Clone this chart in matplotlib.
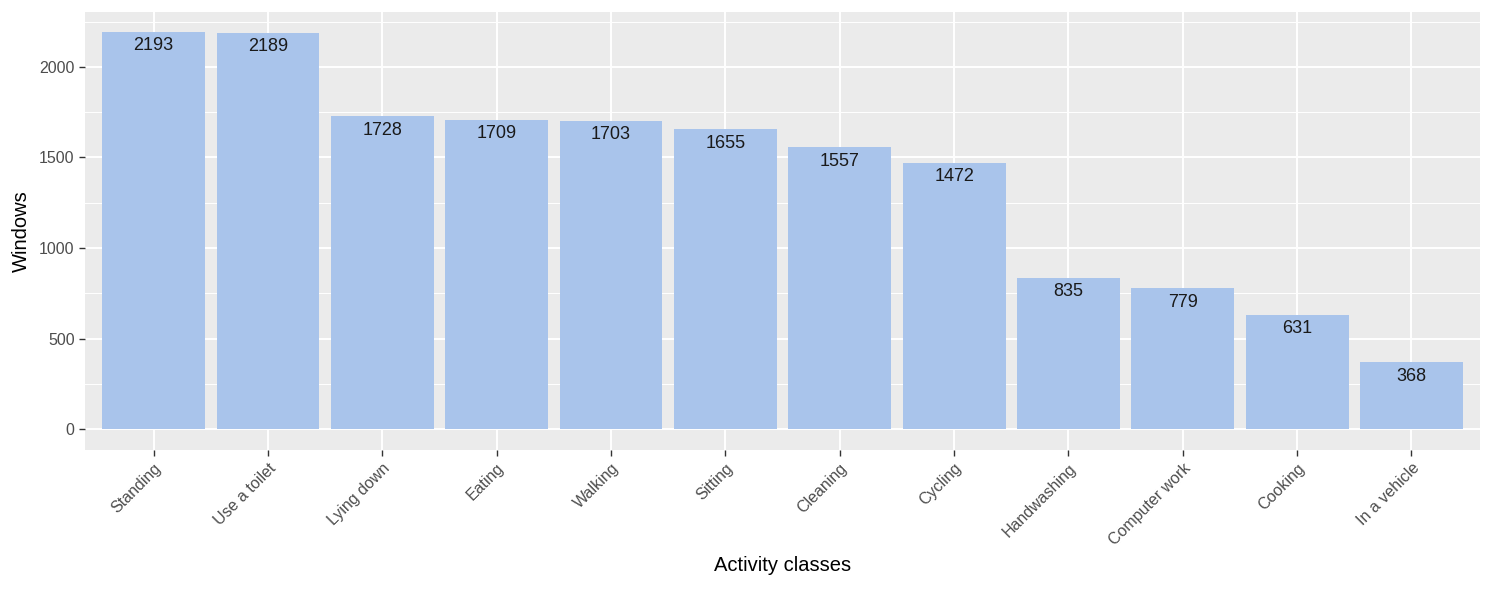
import matplotlib
matplotlib.use("Agg")
import matplotlib.pyplot as plt

categories = ["Standing", "Use a toilet", "Lying down", "Eating", "Walking", "Sitting",
              "Cleaning", "Cycling", "Handwashing", "Computer work", "Cooking", "In a vehicle"]
values = [2193, 2189, 1728, 1709, 1703, 1655, 1557, 1472, 835, 779, 631, 368]
yticks = [0, 500, 1000, 1500, 2000]

plt.rcParams['font.family'] = ['Liberation Sans', 'DejaVu Sans']
fig = plt.figure(figsize=(14.92, 5.93), dpi=100)
ax = fig.add_axes([0.057, 0.241, 0.935, 0.739])
ax.set_facecolor('#EBEBEB')
x = list(range(len(categories)))
ax.bar(x, values, width=0.9, color='#A9C4EB', zorder=3)
for xi, v in zip(x, values):
    ax.annotate(str(v), (xi, v), xytext=(0, -14), textcoords='offset pixels',
                ha='center', va='center', fontsize=13, color='#1a1a1a', zorder=4)
ax.set_xlim(-0.6, len(categories) - 0.4)
ax.set_ylim(-116, 2304)
ax.set_yticks(yticks)
ax.set_yticks([250, 750, 1250, 1750, 2250], minor=True)
ax.set_xticks(x)
ax.set_xticklabels(categories, rotation=45, ha='right', rotation_mode='anchor')
ax.grid(True, which='major', color='white', linewidth=1.4, zorder=0)
ax.grid(True, which='minor', axis='y', color='white', linewidth=0.7, zorder=0)
for s in ax.spines.values():
    s.set_visible(False)
ax.tick_params(axis='both', which='major', colors='#333333', labelcolor='#4D4D4D',
               labelsize=11.5, length=4, width=1)
ax.tick_params(axis='y', which='minor', length=0)
ax.set_xlabel('Activity classes', fontsize=14.5, color='black', labelpad=6)
ax.set_ylabel('Windows', fontsize=14.5, color='black', labelpad=6)
fig.savefig('out.png', dpi=100, facecolor='white')
